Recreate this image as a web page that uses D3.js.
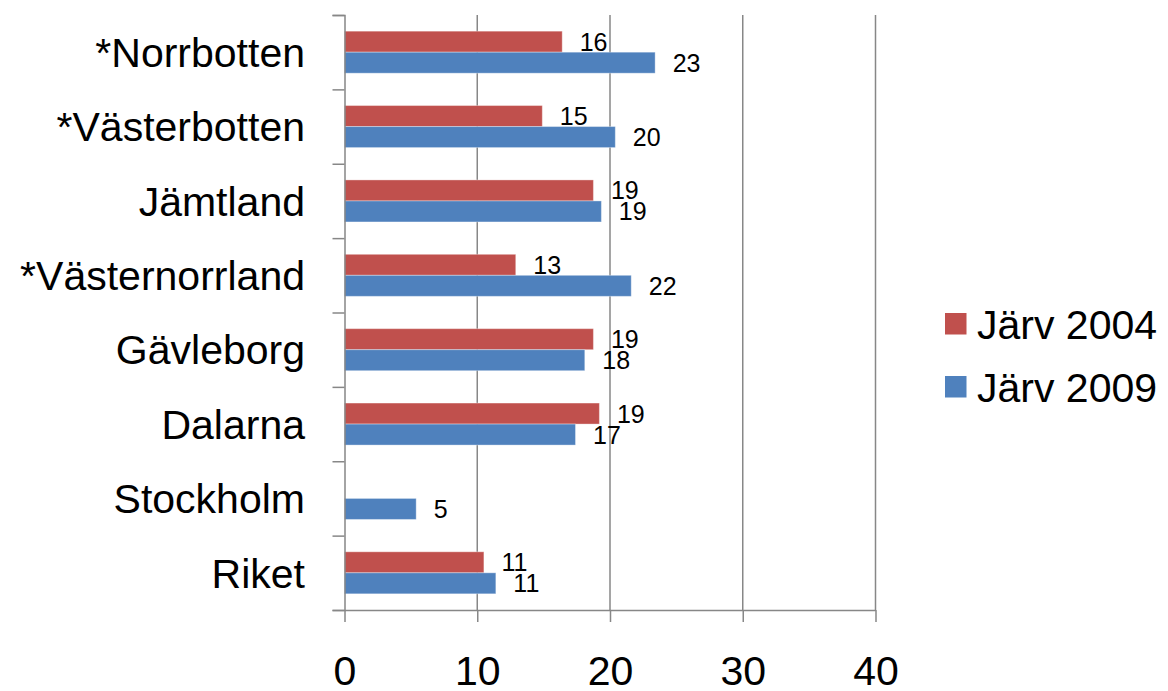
<!DOCTYPE html>
<html>
<head>
<meta charset="utf-8">
<script src="https://cdn.jsdelivr.net/npm/d3@7"></script>
<style>
  html, body { margin: 0; padding: 0; background: #fff; }
  svg { display: block; font-family: Arial, "Liberation Sans", sans-serif; }
</style>
</head>
<body>
<div id="chart"></div>
<script>
// Data
const categories = ["*Norrbotten", "*Västerbotten", "Jämtland", "*Västernorrland", "Gävleborg", "Dalarna", "Stockholm", "Riket"];
const years = ["Järv 2004", "Järv 2009"];
const values2004 = [16.4, 14.9, 18.75, 12.9, 18.75, 19.2, null, 10.5];
const values2009 = [23.4, 20.4, 19.35, 21.6, 18.1, 17.4, 5.4, 11.4];
const xTicks = [0, 10, 20, 30, 40];

const colors = { "Järv 2004": "#c0504d", "Järv 2009": "#4f81bd" };
const axisColor = "#878787";

const width = 1168, height = 691;
const plot = { left: 344.5, right: 875.5, top: 15, bottom: 610 };

const svg = d3.select('#chart')
  .append('svg')
  .attr('width', width)
  .attr('height', height);

// Scales
const x = d3.scaleLinear().domain([0, 40]).range([plot.left, plot.right]);
const y = d3.scaleBand().domain(categories).range([plot.top, plot.bottom]).padding(0);
const ySub = d3.scaleBand().domain(years).range([0, y.bandwidth()]).paddingInner(0).paddingOuter(0.77);
const yEdge = d3.scaleLinear().domain([0, categories.length]).range([plot.top, plot.bottom]);

// Gridlines
svg.append('g')
  .selectAll('line')
  .data(xTicks.filter(t => t > 0))
  .join('line')
  .attr('x1', d => x(d)).attr('x2', d => x(d))
  .attr('y1', plot.top).attr('y2', plot.bottom)
  .attr('stroke', axisColor)
  .attr('stroke-width', 1.5);

// Bars
const rows = categories.map((c, i) => ({
  cat: c,
  vals: [
    { key: years[0], v: values2004[i] },
    { key: years[1], v: values2009[i] }
  ]
}));

const groups = svg.append('g')
  .selectAll('g')
  .data(rows)
  .join('g')
  .attr('transform', d => `translate(0,${y(d.cat)})`);

groups.selectAll('rect')
  .data(d => d.vals.filter(v => v.v != null))
  .join('rect')
  .attr('x', x(0))
  .attr('y', d => ySub(d.key))
  .attr('width', d => x(d.v) - x(0))
  .attr('height', ySub.bandwidth())
  .attr('fill', d => colors[d.key])
  .attr('stroke', '#ffffff')
  .attr('stroke-opacity', 0.35)
  .attr('stroke-width', 1);

groups.selectAll('text')
  .data(d => d.vals.filter(v => v.v != null))
  .join('text')
  .attr('x', d => x(d.v) + 17.5)
  .attr('y', d => ySub(d.key) + ySub.bandwidth() / 2)
  .attr('dy', '0.36em')
  .attr('font-size', 25)
  .attr('fill', '#000')
  .text(d => d3.format('.0f')(d.v));

// Y axis (ticks at category boundaries)
const yAxis = svg.append('g')
  .attr('transform', `translate(${plot.left},0)`)
  .call(d3.axisLeft(yEdge)
    .tickValues(d3.range(0, categories.length + 1))
    .tickSize(12)
    .tickFormat(''));
yAxis.select('.domain').attr('stroke', axisColor).attr('stroke-width', 1.5);
yAxis.selectAll('.tick line').attr('stroke', axisColor).attr('stroke-width', 1.5);

svg.append('g')
  .selectAll('text')
  .data(categories)
  .join('text')
  .attr('x', 305)
  .attr('y', d => y(d) + y.bandwidth() / 2)
  .attr('dy', '0.36em')
  .attr('text-anchor', 'end')
  .attr('font-size', 41)
  .attr('fill', '#000')
  .text(d => d);

// X axis
const xAxis = svg.append('g')
  .attr('transform', `translate(0,${plot.bottom})`)
  .call(d3.axisBottom(x)
    .tickValues(xTicks)
    .tickSize(12)
    .tickSizeOuter(0)
    .tickPadding(34));
xAxis.select('.domain').attr('stroke', axisColor).attr('stroke-width', 1.5);
xAxis.selectAll('.tick line').attr('stroke', axisColor).attr('stroke-width', 1.5);
xAxis.selectAll('.tick text')
  .attr('font-size', 41)
  .attr('font-family', 'Arial, "Liberation Sans", sans-serif')
  .attr('fill', '#000');

// Legend
const legend = svg.append('g')
  .selectAll('g')
  .data(years)
  .join('g')
  .attr('transform', (d, i) => `translate(945,${313 + i * 63})`);

legend.append('rect')
  .attr('width', 21.5)
  .attr('height', 21.5)
  .attr('fill', d => colors[d]);

legend.append('text')
  .attr('x', 32)
  .attr('y', 11)
  .attr('dy', '0.36em')
  .attr('font-size', 41)
  .attr('fill', '#000')
  .text(d => d);
</script>
</body>
</html>
